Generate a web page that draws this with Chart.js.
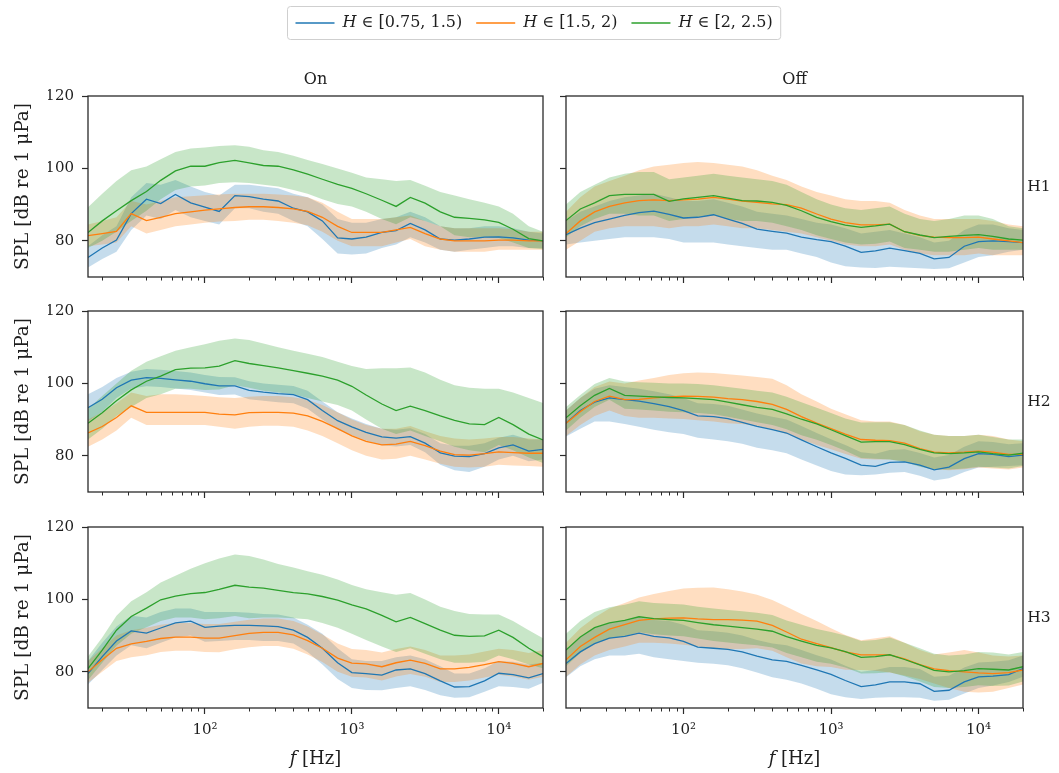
<!DOCTYPE html>
<html>
<head>
<meta charset="utf-8">
<script src="https://cdn.jsdelivr.net/npm/chart.js@4.4.1/dist/chart.umd.min.js"></script>
<style>
  html, body { margin: 0; padding: 0; background: #ffffff; }
  #wrap { position: relative; width: 1059px; height: 773px; overflow: hidden; }
  #wrap canvas { position: absolute; left: 0; top: 0; }
</style>
</head>
<body>
<div id="wrap"></div>
<script>
// ---- data -----------------------------------------------------------------
// third-octave band centre frequencies [Hz]
const freqs = [16, 20, 25, 31.5, 40, 50, 63, 80, 100, 125, 160, 200, 250, 315, 400, 500,
               630, 800, 1000, 1250, 1600, 2000, 2500, 3150, 4000, 5000, 6300, 8000, 10000, 12500, 16000, 20000];

const seriesLabels = ['H ∈ [0.75, 1.5)', 'H ∈ [1.5, 2)', 'H ∈ [2, 2.5)'];
const columnTitles = ['On', 'Off'];
const rowTitles = ['H1', 'H2', 'H3'];
const yTitle = 'SPL [dB re 1 μPa]';
const xTitle = 'f [Hz]';
const yTicks = [80, 100, 120];
const xTicks = [100, 1000, 10000];
const xTickLabels = ['10²', '10³', '10⁴'];
const xMinorTicks = [20, 30, 40, 50, 60, 70, 80, 90, 200, 300, 400, 500, 600, 700, 800, 900,
                     2000, 3000, 4000, 5000, 6000, 7000, 8000, 9000, 20000];

// On / H1
const onH1BlueMean = [75.4, 78.0, 80.2, 87.5, 91.5, 90.3, 92.8, 90.5, 89.3, 88.1, 92.5, 92.2, 91.5, 91.0, 89.0, 88.0, 85.5, 80.8, 80.5, 81.0, 82.3, 82.8, 84.8, 83.0, 80.5, 80.2, 80.5, 81.0, 81.1, 80.8, 80.2, 80.0];
const onH1BlueHi   = [78.5, 81.5, 84, 92, 96, 95.5, 96.8, 95, 93.5, 92.5, 95.5, 95.5, 95, 94.5, 93, 92, 90, 86, 85, 85, 86, 86.5, 88, 86.5, 84, 83.5, 83.5, 84, 84, 83.5, 82.5, 82];
const onH1BlueLo   = [72.6, 75, 77, 83, 87, 86, 88.5, 86.5, 85.5, 84.5, 89, 89, 88, 87.5, 85.5, 84, 80.5, 76.5, 76.2, 76.5, 78, 79, 81, 79.5, 77.5, 77, 77.5, 78, 78.5, 78.5, 78, 78];
const onH1OrangeMean = [81.4, 82.0, 82.6, 87.5, 85.6, 86.5, 87.5, 88.0, 88.5, 88.8, 89.2, 89.4, 89.4, 89.2, 88.8, 88.1, 86.5, 84.0, 82.3, 82.3, 82.3, 83.0, 83.7, 82.0, 80.5, 80.0, 80.0, 80.0, 80.2, 80.2, 80.0, 80.0];
const onH1OrangeHi   = [84.5, 85.5, 86.5, 91, 90, 91, 92, 92.3, 92.6, 92.8, 93, 93, 93, 92.8, 92.5, 92, 90.5, 88, 86, 86, 86, 86.5, 87, 85.5, 84, 83.5, 83.5, 83.5, 83.5, 83.2, 82.5, 82.5];
const onH1OrangeLo   = [78.5, 79, 79.5, 84, 82, 83, 84, 84.5, 85, 85.3, 85.5, 85.8, 85.8, 85.5, 85, 84.3, 82.5, 80, 78.5, 78.5, 78.5, 79.5, 80.5, 78.5, 77.5, 77, 77, 77, 77.5, 77.5, 77.5, 77.5];
const onH1GreenMean = [82.3, 85.5, 88.3, 91.1, 93.6, 96.7, 99.3, 100.6, 100.6, 101.6, 102.2, 101.5, 100.8, 100.6, 99.6, 98.4, 97.0, 95.6, 94.5, 93.0, 91.2, 89.5, 92.0, 90.4, 88.0, 86.5, 86.2, 85.8, 85.1, 83.2, 80.6, 80.0];
const onH1GreenHi   = [89.3, 93, 96.5, 99.5, 100.5, 102.5, 104.5, 105.5, 105.8, 106.2, 106.4, 106, 105, 104.5, 103.5, 102.3, 101.2, 100, 98.8, 97.5, 97, 96.5, 96.8, 95.2, 93.5, 92.5, 91.5, 90.5, 89.5, 87.5, 84, 82.5];
const onH1GreenLo   = [78.0, 80, 82.5, 85.5, 88.3, 91.5, 94, 95, 95.3, 96, 96.2, 96, 95.5, 95, 94, 93, 91.5, 90.2, 89.5, 88, 86, 84.6, 86.5, 85.5, 84, 81.5, 81, 81, 80.8, 79.5, 78, 77.7];

// Off / H1
const offH1BlueMean = [81.7, 83.5, 85, 86, 87, 87.8, 88.2, 87.3, 86.3, 86.5, 87.2, 86, 84.8, 83.2, 82.6, 82.1, 81, 80.3, 79.8, 78.5, 76.8, 77.2, 78, 77.3, 76.5, 75, 75.4, 78.5, 79.8, 80, 79.8, 79.5];
const offH1BlueHi   = [85.5, 88, 89.5, 91, 92, 92.5, 93, 92, 91, 91, 91.5, 90.5, 89.5, 88, 87.5, 87, 86, 85, 84.5, 83.5, 82, 82.5, 83, 82, 81, 79.5, 80, 83, 84.5, 84.5, 83.5, 83];
const offH1BlueLo   = [79, 79.5, 80, 80.5, 81, 81, 81, 80.5, 79.5, 79.5, 79.5, 79, 78.5, 78, 77.5, 77.5, 76.5, 75.5, 74, 73, 72.6, 72.5, 72.8, 72.6, 72.4, 72.2, 72.4, 74, 75.5, 76, 77, 77.5];
const offH1OrangeMean = [82, 85.5, 88, 89.5, 90.5, 91.1, 91.3, 91.1, 91.3, 91.5, 92, 91.5, 91, 90.6, 90.2, 90, 89, 87.4, 86, 85, 84.4, 84.4, 84.6, 82.5, 81.5, 81, 80.9, 80.9, 81, 80.5, 80, 79.5];
const offH1OrangeHi   = [88, 92, 95, 96.5, 98, 99.5, 100.5, 101, 101.5, 101.8, 101.5, 101, 100.5, 99.5, 98, 96.8, 95, 93.5, 92.5, 91.5, 91, 91, 90.5, 88.5, 87, 86, 86, 86, 86, 85.5, 84.5, 84];
const offH1OrangeLo   = [77.5, 80, 82.5, 83.5, 84, 84, 84, 83.5, 84, 84, 84.5, 84, 83.5, 83.5, 83, 82.5, 82, 81, 80, 79, 78.5, 78.5, 79, 77.5, 76.5, 76, 76, 76, 76.5, 76, 76, 76];
const offH1GreenMean = [85.6, 88.8, 90.5, 92.5, 92.8, 92.8, 92.8, 90.9, 91.6, 92, 92.5, 91.8, 91.1, 91, 90.6, 89.8, 88.3, 86.5, 85.3, 84.3, 83.7, 84.1, 84.6, 82.5, 81.6, 80.9, 81.2, 81.5, 81.7, 81.2, 80.5, 80.2];
const offH1GreenHi   = [90, 93.5, 95.5, 97.5, 98.5, 99, 99, 97, 97.5, 98, 98.5, 98, 97.5, 97, 96.5, 95.5, 93.5, 91.5, 90, 89, 88.5, 89, 89.5, 87.5, 86, 85.5, 86, 87, 87, 86, 84, 83.5];
const offH1GreenLo   = [81, 84, 86, 87.5, 87.5, 87, 87, 85.5, 86, 86.5, 87, 86, 85.5, 85.5, 85, 84, 83, 81.5, 80.5, 79.5, 79, 79.2, 79.8, 78, 77.5, 77, 77, 77.5, 78, 77.5, 77.5, 77.5];

// On / H2
const onH2BlueMean = [93.3, 95.6, 98.8, 100.9, 101.6, 101.4, 101, 100.6, 99.9, 99.3, 99.3, 98.1, 97.6, 97.2, 96.9, 95.5, 92.5, 89.7, 88, 86.5, 85.2, 84.9, 85.3, 83.5, 80.8, 79.9, 79.8, 80.6, 82.2, 83, 81.3, 81.8];
const onH2BlueHi   = [97, 99, 101.5, 103.2, 104, 103.8, 103.4, 103, 102.3, 101.8, 101.7, 100.6, 100, 99.6, 99.3, 98, 95, 92, 90.3, 88.8, 87.5, 87.2, 87.6, 86, 83.5, 82.8, 82.8, 83.5, 85, 85.8, 84.5, 84.5];
const onH2BlueLo   = [89.5, 92.2, 96, 98.6, 99.2, 99, 98.6, 98.2, 97.5, 96.8, 96.9, 95.6, 95.2, 94.8, 94.5, 93, 90, 87.2, 85.7, 84.2, 82.9, 82.6, 83, 81, 77.5, 76, 75.5, 77, 79, 80, 78.5, 79];
const onH2OrangeMean = [86.3, 88.1, 90.6, 93.8, 92, 92, 92, 92, 92, 91.5, 91.3, 91.9, 92, 92, 91.8, 91, 89.5, 87.5, 85.5, 84, 83, 83.2, 84, 82.8, 81.3, 80.3, 80.2, 80.6, 81.1, 80.9, 80.7, 80.7];
const onH2OrangeHi   = [90, 92, 94.5, 97.5, 96.5, 97, 97, 96.8, 96.5, 96.2, 96, 96.3, 96.5, 96.5, 96.2, 95.5, 94, 92, 90, 88.5, 87.5, 87.5, 88.2, 86.8, 85.5, 84.8, 84.5, 84.8, 85.2, 85.2, 84.8, 84.5];
const onH2OrangeLo   = [82.5, 84.5, 87, 90.5, 88.5, 88.5, 88.5, 88.5, 88.5, 88, 87.5, 88, 88.3, 88.3, 88, 87, 85.5, 83.5, 81.5, 80, 79, 79.2, 80, 79, 77.8, 77, 76.8, 77, 77.5, 77.3, 77.2, 77];
const onH2GreenMean = [89, 91.9, 95.2, 98.2, 100.6, 102, 103.8, 104.2, 104.3, 104.8, 106.3, 105.5, 104.9, 104.3, 103.5, 102.8, 102, 100.9, 99.2, 96.8, 94.3, 92.5, 93.7, 92.5, 91, 89.8, 88.8, 88.6, 90.6, 88.6, 86, 84.4];
const onH2GreenHi   = [93, 96.5, 100, 103.5, 106, 107.5, 109, 110, 110.8, 111.8, 112.4, 112, 111, 110, 109, 108.2, 107.3, 106, 104.8, 104, 104.2, 104.2, 104.4, 103, 101, 99.5, 98.8, 98.5, 98.5, 97.5, 96, 94.6];
const onH2GreenLo   = [84.5, 87.5, 91, 93.5, 96, 97, 98.5, 98.5, 98.2, 98.3, 99.5, 98.8, 98, 97.5, 97, 96, 95, 94, 92.5, 90, 87.5, 86, 87, 85.5, 84, 82.5, 81.5, 81, 83, 81.5, 79.5, 78];

// Off / H2
const offH2BlueMean = [89, 92.5, 94.8, 96, 95.5, 95.1, 94.4, 93.6, 92.5, 91, 90.8, 90.3, 89.2, 88.1, 87.2, 86.3, 84.4, 82.5, 80.8, 79.3, 77.4, 77.1, 78.2, 78.3, 77.4, 76.1, 76.9, 79.2, 80.6, 80.4, 79.8, 80.2];
const offH2BlueHi   = [92.5, 96, 98.5, 99.5, 99, 98.5, 97.8, 97, 96, 94.5, 94.3, 93.8, 92.8, 91.7, 90.8, 90, 88.2, 86.3, 84.6, 83, 81, 80.6, 81.6, 81.8, 80.8, 79.5, 80.2, 82.5, 84, 83.8, 83.2, 83.5];
const offH2BlueLo   = [85.3, 87.5, 89.5, 89.5, 88.8, 88, 87.2, 86.5, 86, 85, 84.5, 84, 83.3, 82.2, 81.5, 80.7, 79, 77.3, 75.8, 74.8, 74.6, 74.8, 75.3, 75.5, 74.5, 73.2, 73.8, 75.5, 76.8, 77, 77.2, 77.4];
const offH2OrangeMean = [89, 92.2, 95, 96.5, 95.5, 95.6, 96, 96.3, 96.5, 96.4, 96.2, 95.8, 95.5, 95, 94.2, 92.8, 90.8, 89, 87.5, 86, 84.5, 84.3, 84.2, 83.5, 82, 81, 80.8, 81, 81.3, 81, 80.4, 80.4];
const offH2OrangeHi   = [92.5, 96, 99, 100.5, 100, 100.8, 101.5, 102.3, 102.8, 103, 102.9, 102.5, 102.2, 101.8, 101.3, 99.5, 97, 95, 93, 91.5, 89.8, 89.5, 89.5, 88.5, 86.8, 85.8, 85.5, 85.5, 85.8, 85.5, 84.5, 84];
const offH2OrangeLo   = [85.5, 88.5, 91, 92.5, 91, 90.5, 90.5, 90.3, 90.2, 89.8, 89.5, 89, 88.8, 88.2, 87.3, 86, 84.5, 83, 81.8, 80.5, 79.2, 79, 79, 78.5, 77.2, 76.3, 76, 76.3, 76.8, 76.5, 76.2, 76.8];
const offH2GreenMean = [90.5, 93.8, 96.7, 98.6, 96.7, 96.5, 96.3, 96.1, 96, 95.8, 95.5, 94.8, 94.1, 93.4, 92.8, 91.6, 90.1, 88.8, 87.2, 85.6, 83.8, 83.9, 83.9, 83.1, 81.8, 80.8, 80.6, 80.8, 81.1, 80.6, 80.2, 80.7];
const offH2GreenHi   = [93.5, 96.8, 99.8, 101.5, 100.5, 100.3, 100.2, 100, 100, 99.8, 99.5, 99, 98.5, 98, 97.5, 96.3, 94.8, 93.3, 91.8, 90.3, 89.2, 89.3, 89.3, 88.5, 87, 85.8, 85.5, 85.5, 85.8, 85.2, 84.5, 84.5];
const offH2GreenLo   = [87, 90.5, 93.5, 95.5, 93, 92.8, 92.5, 92.2, 92, 91.8, 91.5, 90.8, 90, 89.3, 88.5, 87.3, 85.7, 84.4, 83, 81.4, 79.4, 79.2, 79, 78.3, 77, 76.2, 76.2, 76.5, 77, 76.8, 76.5, 77.2];

// On / H3
const onH3BlueMean = [79.5, 84.2, 88.5, 91.3, 90.7, 92.1, 93.5, 94, 92.3, 92.6, 92.8, 92.8, 92.7, 92.5, 91.5, 89.5, 86.5, 82.5, 79.8, 79.5, 79.1, 80.5, 80.8, 79.5, 77.5, 75.8, 75.9, 77.5, 79.6, 79.2, 78.3, 79.5];
const onH3BlueHi   = [83, 88, 92.5, 95.5, 95, 96.5, 97.5, 97.5, 96.5, 96.5, 96.5, 96.3, 96, 95.8, 95, 93, 90.5, 86.5, 83.5, 83, 83, 84, 84.5, 83.5, 81.5, 79.5, 79.5, 81, 83, 82.8, 82, 82.5];
const onH3BlueLo   = [76.5, 80.5, 84.5, 87.3, 86.5, 88, 89.5, 90, 88.3, 88.5, 88.8, 88.8, 88.5, 88.5, 87.8, 85.5, 82, 78, 75.5, 75, 74.9, 75.5, 76, 75, 73.5, 72.8, 73, 74.5, 76, 75.8, 75.3, 77];
const onH3OrangeMean = [80, 83.3, 86.5, 87.7, 88.4, 89.2, 89.6, 89.6, 89.3, 89.3, 90, 90.6, 90.9, 90.9, 90.2, 88.6, 86.5, 83.8, 82.4, 82.2, 81.4, 82.5, 83.2, 82.3, 80.8, 80.8, 81.2, 82, 82.8, 82.3, 81.4, 82.3];
const onH3OrangeHi   = [83, 86.5, 90, 91.5, 92.2, 93, 93.5, 93.5, 93.2, 93.2, 93.8, 94.4, 94.7, 94.7, 94, 92.5, 90.3, 87.8, 86.3, 86, 85.3, 86.3, 87, 86, 84.5, 84.5, 84.8, 85.6, 86.4, 86, 85.2, 86];
const onH3OrangeLo   = [77, 80, 83, 84, 84.6, 85.5, 85.8, 85.8, 85.5, 85.4, 86.2, 86.8, 87.1, 87.1, 86.4, 84.8, 82.7, 80, 78.6, 78.4, 77.6, 78.7, 79.4, 78.6, 77.2, 77.2, 77.6, 78.4, 79.2, 78.7, 77.8, 78.6];
const onH3GreenMean = [80.9, 86, 91.5, 95.3, 97.6, 99.9, 100.9, 101.6, 101.9, 102.8, 103.9, 103.4, 103.1, 102.5, 101.9, 101.5, 100.8, 99.8, 98.5, 97.4, 95.6, 93.8, 95, 93.3, 91.5, 90.1, 89.8, 89.9, 91.5, 89.5, 86.5, 84.2];
const onH3GreenHi   = [84.2, 89.5, 95.5, 99.5, 102, 104.7, 106.5, 108.5, 110, 111.3, 112.4, 112, 111, 109.8, 108.8, 107.8, 106.8, 105.5, 104, 102.8, 102, 101.3, 101.8, 100, 98, 96.8, 96, 95.8, 95.8, 94, 91.5, 89.3];
const onH3GreenLo   = [77.7, 82.5, 87.2, 90.5, 92.3, 94, 95, 95, 94.5, 94.8, 95.4, 94.8, 95, 95, 94.8, 94.5, 93.5, 92.2, 90.5, 88.8, 87, 85.5, 86.5, 85, 83.5, 82.5, 82.5, 82.8, 84.5, 83.5, 82, 81];

// Off / H3
const offH3BlueMean = [82.3, 85.5, 87.8, 89.3, 89.8, 90.7, 89.8, 89.4, 88.4, 86.8, 86.5, 86.2, 85.5, 84.3, 83.3, 82.9, 81.8, 80.5, 79.3, 77.6, 75.9, 76.4, 77.2, 77.2, 76.7, 74.6, 74.9, 77.2, 78.6, 78.8, 79.2, 80.9];
const offH3BlueHi   = [86.3, 89.5, 92, 93.5, 94, 95, 94.3, 94, 93, 91.5, 91.2, 90.8, 90, 88.8, 87.8, 87.3, 86, 84.6, 83.4, 81.7, 80, 80.5, 81.3, 81.3, 80.8, 78.6, 78.9, 81.2, 82.6, 82.8, 83.2, 84.5];
const offH3BlueLo   = [78.5, 81.5, 83.5, 84.5, 84.5, 85, 84, 83.5, 83, 82.5, 82.2, 81.8, 81, 79.8, 78.5, 77.8, 76.8, 75.3, 73.8, 73, 72.5, 72.8, 73, 73, 72.8, 72, 72.3, 74, 75.5, 76.2, 77.2, 78.6];
const offH3OrangeMean = [83.3, 87, 89.5, 91.8, 93, 94.2, 94.6, 94.8, 94.9, 94.6, 94.4, 94.4, 94.3, 94, 92.8, 91, 89, 87.8, 86.7, 85.5, 84.7, 84.7, 84.7, 83.6, 82, 80.8, 80.3, 80, 79.7, 79.5, 79.8, 80.5];
const offH3OrangeHi   = [88, 92, 95, 97.5, 99, 100.5, 101.5, 102.3, 103, 103.2, 103.3, 102.8, 102.2, 101.3, 99.8, 98, 96, 94, 92, 90.2, 88.7, 89.3, 89.8, 88, 86, 84.8, 85.3, 86, 85.3, 84.5, 84.2, 84.5];
const offH3OrangeLo   = [78.6, 82, 84.5, 86, 87, 88, 88, 87.8, 87.5, 87, 86.5, 86.3, 86.3, 86.5, 85.8, 84, 82.3, 81.5, 81.3, 80.6, 80.5, 80.3, 79.8, 79, 78, 76.8, 75.5, 74.5, 74.3, 74.5, 75.5, 76.5];
const offH3GreenMean = [86, 89.6, 92.2, 93.5, 94.2, 95.2, 94.7, 94.4, 94.2, 93.6, 93, 92.6, 92.2, 91.8, 91.2, 89.7, 88.5, 87.3, 86.6, 85.6, 84, 84.2, 84.7, 83.4, 81.9, 80.4, 80, 80.3, 80.9, 80.7, 80.5, 81.4];
const offH3GreenHi   = [90.5, 94, 96.5, 97.8, 98.5, 99.5, 99, 98.8, 98.6, 98, 97.5, 97.1, 96.7, 96.3, 95.7, 94.2, 93, 91.8, 91, 90, 88.5, 88.8, 89.5, 88, 86.5, 85, 84.5, 84.8, 85.5, 85.3, 84.8, 85.5];
const offH3GreenLo   = [81.5, 85.2, 87.8, 89.2, 89.9, 90.9, 90.4, 90, 89.8, 89.2, 88.5, 88.1, 87.7, 87.3, 86.7, 85.2, 84, 82.8, 82.2, 81.2, 79.5, 79.6, 79.9, 78.8, 77.3, 75.8, 75.5, 75.8, 76.3, 76.1, 76.2, 77.3];

// ---- styling --------------------------------------------------------------
const SERIF = '"DejaVu Serif", "Liberation Serif", serif';
const TEXT = '#1e1e1e';
const FRAME = '#2a2a2a';
const COLORS = ['#1f77b4', '#ff7f0e', '#2ca02c'];
const BAND_ALPHA = 0.26;
const W = 1059, H = 773;
const COL_LEFT = [88, 566], COL_RIGHT = [543, 1023];
const ROW_TOP = [96, 311, 527];
const PANEL_H = 181;
const X_MIN = 16, X_MAX = 20000, Y_MIN = 70, Y_MAX = 120;

function rgba(hex, a) {
  const n = parseInt(hex.slice(1), 16);
  return `rgba(${(n >> 16) & 255}, ${(n >> 8) & 255}, ${n & 255}, ${a})`;
}
function points(values) {
  return freqs.map((f, i) => ({ x: f, y: values[i] }));
}

// draw text whose first character is set in italics (math symbol)
function drawMathLabel(ctx, text, x, y, size, align) {
  const head = text.charAt(0), tail = text.slice(1);
  ctx.font = `italic ${size}px ${SERIF}`;
  const wHead = ctx.measureText(head).width;
  ctx.font = `${size}px ${SERIF}`;
  const wTail = ctx.measureText(tail).width;
  const total = wHead + wTail;
  const x0 = align === 'center' ? x - total / 2 : x;
  ctx.textAlign = 'left';
  ctx.font = `italic ${size}px ${SERIF}`;
  ctx.fillText(head, x0, y);
  ctx.font = `${size}px ${SERIF}`;
  ctx.fillText(tail, x0 + wHead, y);
  return total;
}
function mathLabelWidth(ctx, text, size) {
  ctx.font = `italic ${size}px ${SERIF}`;
  const a = ctx.measureText(text.charAt(0)).width;
  ctx.font = `${size}px ${SERIF}`;
  return a + ctx.measureText(text.slice(1)).width;
}

// frame, minor ticks, titles and the shared legend
const decor = {
  id: 'decor',
  afterDatasetsDraw(chart) {
    const { ctx, chartArea: a } = chart;
    const xs = chart.scales.x;
    ctx.save();
    ctx.strokeStyle = FRAME;
    ctx.lineWidth = 1;
    ctx.beginPath();
    for (const v of xMinorTicks) {
      const px = Math.round(xs.getPixelForValue(v)) + 0.5;
      ctx.moveTo(px, a.bottom);
      ctx.lineTo(px, a.bottom + 3.5);
    }
    ctx.stroke();
    ctx.lineWidth = 1.3;
    ctx.strokeRect(a.left, a.top, a.right - a.left, a.bottom - a.top);
    ctx.restore();
  },
  afterDraw(chart, args, opts) {
    const { ctx, chartArea: a } = chart;
    const { row, col } = opts;
    ctx.save();
    ctx.fillStyle = TEXT;
    ctx.textBaseline = 'middle';
    ctx.textAlign = 'center';
    const cx = (a.left + a.right) / 2, cy = (a.top + a.bottom) / 2;
    if (row === 0) {
      ctx.font = `16px ${SERIF}`;
      ctx.fillText(columnTitles[col], cx, a.top - 16);
    }
    if (col === 1) {
      ctx.font = `15.5px ${SERIF}`;
      ctx.fillText(rowTitles[row], a.right + 16, cy);
    }
    if (col === 0) {
      ctx.save();
      ctx.translate(23, cy);
      ctx.rotate(-Math.PI / 2);
      ctx.font = `18.5px ${SERIF}`;
      ctx.fillText(yTitle, 0, 0);
      ctx.restore();
    }
    if (row === 2) {
      drawMathLabel(ctx, xTitle, cx, a.bottom + 51, 18, 'center');
    }
    if (row === 0 && col === 0) {
      const size = 16, lineLen = 39, gapLine = 8, gapEntry = 14, padX = 8;
      const widths = seriesLabels.map(s => mathLabelWidth(ctx, s, size));
      const inner = widths.reduce((s, w) => s + lineLen + gapLine + w, 0) + gapEntry * (seriesLabels.length - 1);
      const boxW = inner + 2 * padX, boxH = 33;
      const bx = Math.round(533.5 - boxW / 2) + 0.5, by = 6.5;
      ctx.fillStyle = 'rgba(255,255,255,0.85)';
      ctx.strokeStyle = '#cfcfcf';
      ctx.lineWidth = 1;
      ctx.beginPath();
      ctx.roundRect(bx, by, boxW, boxH, 3);
      ctx.fill();
      ctx.stroke();
      let x = bx + padX;
      const ly = by + boxH / 2;
      seriesLabels.forEach((s, k) => {
        ctx.strokeStyle = COLORS[k];
        ctx.lineWidth = 1.5;
        ctx.beginPath();
        ctx.moveTo(x, ly);
        ctx.lineTo(x + lineLen, ly);
        ctx.stroke();
        x += lineLen + gapLine;
        ctx.fillStyle = TEXT;
        ctx.textBaseline = 'middle';
        drawMathLabel(ctx, s, x, ly, size, 'left');
        x += widths[k] + gapEntry;
      });
    }
    ctx.restore();
  }
};

const panels = [
  { row: 0, col: 0, series: [[onH1BlueMean, onH1BlueLo, onH1BlueHi], [onH1OrangeMean, onH1OrangeLo, onH1OrangeHi], [onH1GreenMean, onH1GreenLo, onH1GreenHi]] },
  { row: 0, col: 1, series: [[offH1BlueMean, offH1BlueLo, offH1BlueHi], [offH1OrangeMean, offH1OrangeLo, offH1OrangeHi], [offH1GreenMean, offH1GreenLo, offH1GreenHi]] },
  { row: 1, col: 0, series: [[onH2BlueMean, onH2BlueLo, onH2BlueHi], [onH2OrangeMean, onH2OrangeLo, onH2OrangeHi], [onH2GreenMean, onH2GreenLo, onH2GreenHi]] },
  { row: 1, col: 1, series: [[offH2BlueMean, offH2BlueLo, offH2BlueHi], [offH2OrangeMean, offH2OrangeLo, offH2OrangeHi], [offH2GreenMean, offH2GreenLo, offH2GreenHi]] },
  { row: 2, col: 0, series: [[onH3BlueMean, onH3BlueLo, onH3BlueHi], [onH3OrangeMean, onH3OrangeLo, onH3OrangeHi], [onH3GreenMean, onH3GreenLo, onH3GreenHi]] },
  { row: 2, col: 1, series: [[offH3BlueMean, offH3BlueLo, offH3BlueHi], [offH3OrangeMean, offH3OrangeLo, offH3OrangeHi], [offH3GreenMean, offH3GreenLo, offH3GreenHi]] }
];

const wrap = document.getElementById('wrap');

function makePanel(p) {
  const canvas = document.createElement('canvas');
  canvas.width = W;
  canvas.height = H;
  wrap.appendChild(canvas);

  const left = COL_LEFT[p.col], right = COL_RIGHT[p.col];
  const top = ROW_TOP[p.row], bottom = top + PANEL_H;
  const yW = p.col === 0 ? 40 : 10;
  const xH = 40;

  const datasets = [];
  p.series.forEach(([mean, lo, hi], k) => {
    datasets.push({ data: points(hi), borderWidth: 0, pointRadius: 0, borderColor: 'transparent',
                    backgroundColor: rgba(COLORS[k], BAND_ALPHA), fill: '+1', order: 20 - 2 * k });
    datasets.push({ data: points(lo), borderWidth: 0, pointRadius: 0, borderColor: 'transparent',
                    fill: false, order: 19 - 2 * k });
    datasets.push({ data: points(mean), borderColor: COLORS[k], borderWidth: 1.3, pointRadius: 0,
                    fill: false, order: 10 - k });
  });

  new Chart(canvas, {
    type: 'line',
    data: { datasets },
    options: {
      responsive: false,
      animation: false,
      devicePixelRatio: 1,
      events: [],
      layout: { padding: { left: left - yW, right: W - right, top: top, bottom: H - bottom - xH } },
      elements: { line: { tension: 0 } },
      plugins: {
        legend: { display: false },
        tooltip: { enabled: false },
        decor: { row: p.row, col: p.col }
      },
      scales: {
        x: {
          type: 'logarithmic',
          min: X_MIN, max: X_MAX,
          afterBuildTicks: s => { s.ticks = xTicks.map(v => ({ value: v })); },
          afterFit: s => { s.height = xH; },
          ticks: {
            autoSkip: false, maxRotation: 0, padding: 7,
            color: TEXT, font: { family: SERIF, size: 15 },
            callback: v => p.row === 2 ? xTickLabels[xTicks.indexOf(v)] : ''
          },
          grid: { display: true, drawOnChartArea: false, drawTicks: true, tickLength: 6, tickColor: FRAME, tickWidth: 1.2 },
          border: { display: false }
        },
        y: {
          type: 'linear',
          min: Y_MIN, max: Y_MAX,
          afterBuildTicks: s => { s.ticks = yTicks.map(v => ({ value: v })); },
          afterFit: s => { s.width = yW; },
          ticks: {
            padding: 8,
            color: TEXT, font: { family: SERIF, size: 15 },
            callback: v => p.col === 0 ? String(v) : ''
          },
          grid: { display: true, drawOnChartArea: false, drawTicks: true, tickLength: 6, tickColor: FRAME, tickWidth: 1.2 },
          border: { display: false }
        }
      }
    },
    plugins: [decor]
  });
}

panels.forEach(makePanel);
</script>
</body>
</html>
